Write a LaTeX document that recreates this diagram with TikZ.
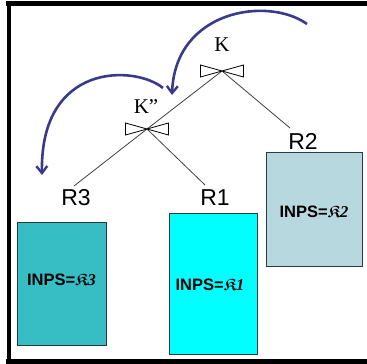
\documentclass[tikz,border=0pt]{standalone}
\usepackage{amsmath,amssymb}
\usepackage{fontspec}
\setmainfont{Liberation Sans}
\newfontfamily\serifK{Liberation Serif}
\usetikzlibrary{arrows.meta}
\definecolor{navy}{RGB}{58,58,140}
\definecolor{tealbox}{RGB}{54,190,196}
\definecolor{cyanbox}{RGB}{0,255,255}
\definecolor{lightbox}{RGB}{184,216,224}
\definecolor{boxedge}{RGB}{40,60,64}
\newcommand{\inpslabel}[1]{{\fontsize{16.5}{16.5}\selectfont\bfseries INPS=\boldmath$\mathfrak{K}$\kern-0.5pt{\serifK\itshape #1}}}
\begin{document}
\begin{tikzpicture}[x=1pt,y=-1pt,
  frameline/.style={line width=4.5pt,black},
  tree/.style={draw=black!75,line width=0.8pt},
  bowtie/.style={draw=black,line width=0.8pt,fill=white},
  rel/.style={font=\fontsize{23}{23}\selectfont,inner sep=0pt},
  keylab/.style={font=\serifK\fontsize{21}{21}\selectfont,inner sep=0pt},
  relbox/.style={draw=boxedge,line width=0.9pt,inner sep=0pt},
  navyarrow/.style={draw=navy,line width=2.6pt,-{Straight Barb[length=7pt,width=11pt,line width=2.4pt]}}
]
\useasboundingbox (0,0) rectangle (367,364);
% frame
\draw[frameline] (6,3.5) -- (367,3.5);
\draw[frameline] (9,1) -- (9,364);
\fill[black] (6,358.5) rectangle (367,364);

% join points
\coordinate (jk) at (222,71);
\coordinate (jk2) at (147,129);
\coordinate (endr2) at (290,128);
\coordinate (endr3) at (74,186);
\coordinate (endr1) at (205,185);

% labels
\node[keylab] (klab) at (222,45) {K};
\node[keylab] (k2lab) at (146,107) {K”};
\node[rel] (r2) at (303,141) {R2};
\node[rel] (r3) at (76,198) {R3};
\node[rel] (r1) at (215,198) {R1};

% tree edges
\draw[tree] (jk) -- (endr2);
\draw[tree] (jk) -- (jk2);
\draw[tree] (jk2) -- (endr3);
\draw[tree] (jk2) -- (endr1);

% bowties
\foreach \c/\w in {jk/21.5,jk2/21.5}{
  \draw[bowtie] (\c) -- ++(-\w,-6) -- ++(0,12) -- cycle;
  \draw[bowtie] (\c) -- ++(\w,-6) -- ++(0,12) -- cycle;
}

% relation boxes
\node[relbox,fill=tealbox,minimum width=89pt,minimum height=123pt] (b3) at (61.5,283.5) {};
\node[relbox,fill=cyanbox,minimum width=88pt,minimum height=141pt] (b1) at (213,283.5) {};
\node[relbox,fill=lightbox,minimum width=96pt,minimum height=114pt] (b2) at (314,209) {};
\node[inner sep=0pt] (t3) at (61.5,280) {\inpslabel{3}};
\node[inner sep=0pt] (t1) at (210,285) {\inpslabel{1}};
\node[inner sep=0pt] (t2) at (314,212) {\inpslabel{2}};

% rotation arrows
\draw[navyarrow] (307,24) .. controls (268,-4) and (175,10) .. (172,95);
\draw[navyarrow] (163,88) .. controls (135,65) and (40,62) .. (42,175);
\end{tikzpicture}
\end{document}
